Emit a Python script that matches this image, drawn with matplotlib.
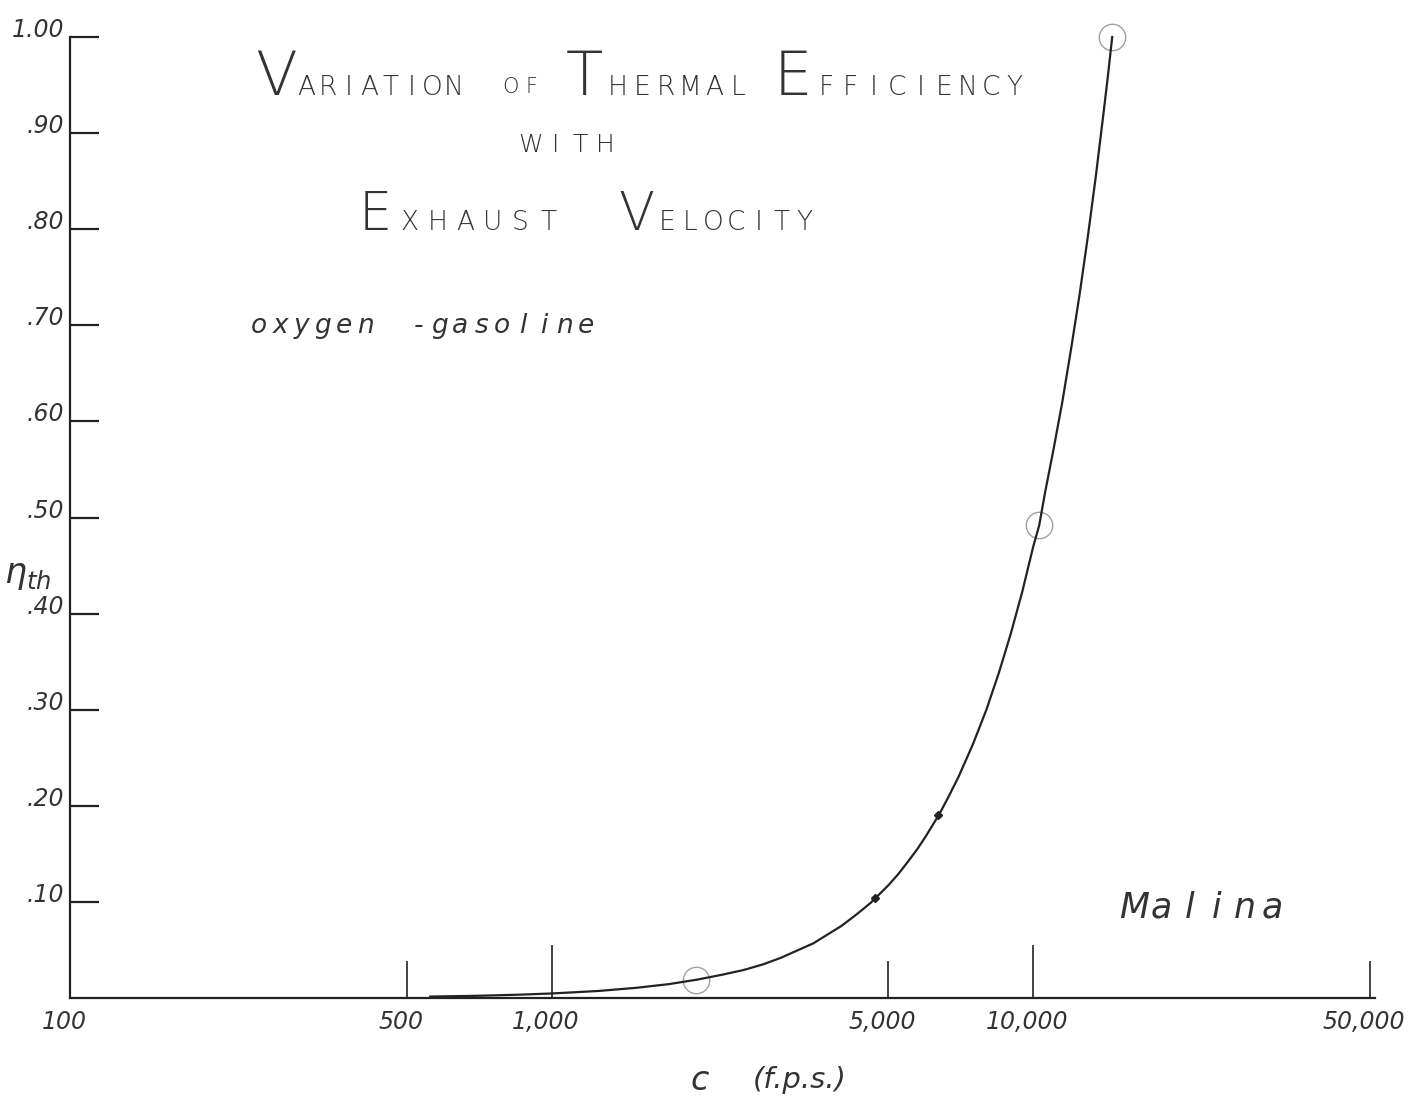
import matplotlib
matplotlib.use("Agg")
import matplotlib.pyplot as plt
import matplotlib.transforms as mtransforms

# ---------------- data ----------------
velocity = [560, 700, 850, 1000, 1250, 1500, 1750, 2000, 2250, 2500, 2750,
            3000, 3500, 4000, 4300, 4600, 5000, 5250, 5500, 5750, 6000, 6400,
            6700, 7000, 7500, 8000, 8500, 9000, 9500, 10000, 10300, 10600,
            11000, 11500, 12000, 12500, 13000, 13500, 14000, 14300, 14600]
efficiency = [0.0015, 0.0023, 0.0034, 0.0047, 0.0073, 0.0106, 0.0144, 0.019,
              0.024, 0.029, 0.035, 0.042, 0.057, 0.075, 0.087, 0.099, 0.117,
              0.129, 0.142, 0.155, 0.169, 0.192, 0.211, 0.230, 0.264, 0.300,
              0.339, 0.380, 0.423, 0.469, 0.492, 0.527, 0.568, 0.620, 0.676,
              0.733, 0.793, 0.855, 0.920, 0.959, 1.000]
point_velocity = [2000, 10300, 14600]
point_efficiency = [0.019, 0.492, 1.000]
mark_velocity = [4700, 6350]
mark_efficiency = [0.104, 0.190]

x_major = [1000, 10000]
x_minor = [500, 5000, 50000]
x_label_vals = [100, 500, 1000, 5000, 10000, 50000]
x_label_txt = ["100", "500", "1,000", "5,000", "10,000", "50,000"]
y_tick_vals = [0.10, 0.20, 0.30, 0.40, 0.50, 0.60, 0.70, 0.80, 0.90, 1.00]
y_tick_txt = [".10", ".20", ".30", ".40", ".50", ".60", ".70", ".80", ".90", "1.00"]

title_line1 = ["V", "ARIATION", "OF", "T", "HERMAL", "E", "FFICIENCY"]
title_line2 = ["WITH"]
title_line3 = ["E", "XHAUST", "V", "ELOCITY"]
fuel_note = ["oxygen", "-gasoline"]
author_note = "Malina"

# ---------------- figure ----------------
W, H = 1427, 1112
fig = plt.figure(figsize=(W / 100, H / 100), dpi=100)
fig.patch.set_facecolor("white")

ax_l, ax_r, ax_t, ax_b = 70, 1375, 37, 998
ax = fig.add_axes([ax_l / W, 1 - ax_b / H, (ax_r - ax_l) / W, (ax_b - ax_t) / H])
ax.set_xscale("log")
ax.set_xlim(100, 51300)
ax.set_ylim(0, 1.0)

ink = "#222222"
pencil = "#333333"
for side in ("top", "right"):
    ax.spines[side].set_visible(False)
for side in ("left", "bottom"):
    ax.spines[side].set_color(ink)
    ax.spines[side].set_linewidth(1.6)

ax.xaxis.set_major_locator(matplotlib.ticker.FixedLocator(x_major))
ax.xaxis.set_minor_locator(matplotlib.ticker.FixedLocator(x_minor))
ax.xaxis.set_major_formatter(matplotlib.ticker.NullFormatter())
ax.xaxis.set_minor_formatter(matplotlib.ticker.NullFormatter())
ax.tick_params(axis="x", which="major", direction="in", length=38, width=1.2, color=ink)
ax.tick_params(axis="x", which="minor", direction="in", length=27, width=1.2, color=ink)
ax.set_yticks(y_tick_vals)
ax.set_yticklabels([])
ax.tick_params(axis="y", which="major", direction="in", length=21, width=1.6, color=ink)
ax.tick_params(axis="y", which="minor", length=0)

# curve and plotted points
ax.plot(velocity, efficiency, color=ink, lw=1.6, clip_on=False, zorder=3,
        solid_joinstyle="round")
ax.plot(point_velocity, point_efficiency, linestyle="none", marker="o",
        markersize=19, markerfacecolor="none", markeredgecolor="#a0a0a0",
        markeredgewidth=1.0, clip_on=False, zorder=2)
ax.plot(mark_velocity, mark_efficiency, linestyle="none", marker="D",
        markersize=4, color=ink, zorder=4)

hand = dict(family="DejaVu Sans", style="italic", color=pencil)

# tick labels
xtrans = mtransforms.blended_transform_factory(ax.transData, ax.transAxes)
for v, t in zip(x_label_vals, x_label_txt):
    ax.text(v, 0, t, transform=xtrans + mtransforms.Affine2D().translate(-6, -12),
            ha="center", va="top", fontsize=17, **hand)
ytrans = mtransforms.blended_transform_factory(ax.transAxes, ax.transData)
for v, t in zip(y_tick_vals, y_tick_txt):
    ax.text(0, v, t, transform=ytrans + mtransforms.Affine2D().translate(-6, 7),
            ha="right", va="center", fontsize=17, **hand)


def px(x, y):
    return x / W, 1 - y / H


def spaced(text, x0, x1, baseline, size, **kw):
    """Hand-lettering: centre each character in an even slot across [x0, x1]."""
    step = (x1 - x0) / len(text)
    for i, ch in enumerate(text):
        fig.text(*px(x0 + (i + 0.5) * step, baseline), ch, ha="center",
                 va="baseline", fontsize=size, **kw)


# axis labels
fig.text(*px(700, 1080), "c", ha="center", va="center", fontsize=24, **hand)
fig.text(*px(800, 1080), "(f.p.s.)", ha="center", va="center", fontsize=21, **hand)
fig.text(*px(28, 575), r"$\eta_{th}$", ha="center", va="center",
         fontsize=25, color=pencil)

# title in hand-lettered small caps
letter = dict(family="DejaVu Sans", color=pencil, fontweight="light")
big1, small1 = 44, 19
spaced(title_line1[0], 260, 292, 95, big1, **letter)
spaced(title_line1[1], 296, 464, 95, small1, **letter)
spaced(title_line1[2], 500, 542, 93, 15, **letter)
spaced(title_line1[3], 566, 602, 95, big1, **letter)
spaced(title_line1[4], 606, 750, 95, small1, **letter)
spaced(title_line1[5], 776, 810, 95, big1, **letter)
spaced(title_line1[6], 815, 1026, 95, small1, **letter)
spaced(title_line2[0], 518, 618, 152, 18, **letter)
spaced(title_line3[0], 358, 392, 230, 38, **letter)
spaced(title_line3[1], 396, 562, 230, 19, **letter)
spaced(title_line3[2], 620, 652, 230, 38, **letter)
spaced(title_line3[3], 656, 816, 230, 19, **letter)

spaced(fuel_note[0], 248, 376, 333, 19, **hand)
spaced(fuel_note[1], 408, 596, 333, 19, **hand)
spaced(author_note, 1120, 1286, 918, 25, **hand)

fig.savefig("out.png", dpi=100, facecolor="white")
